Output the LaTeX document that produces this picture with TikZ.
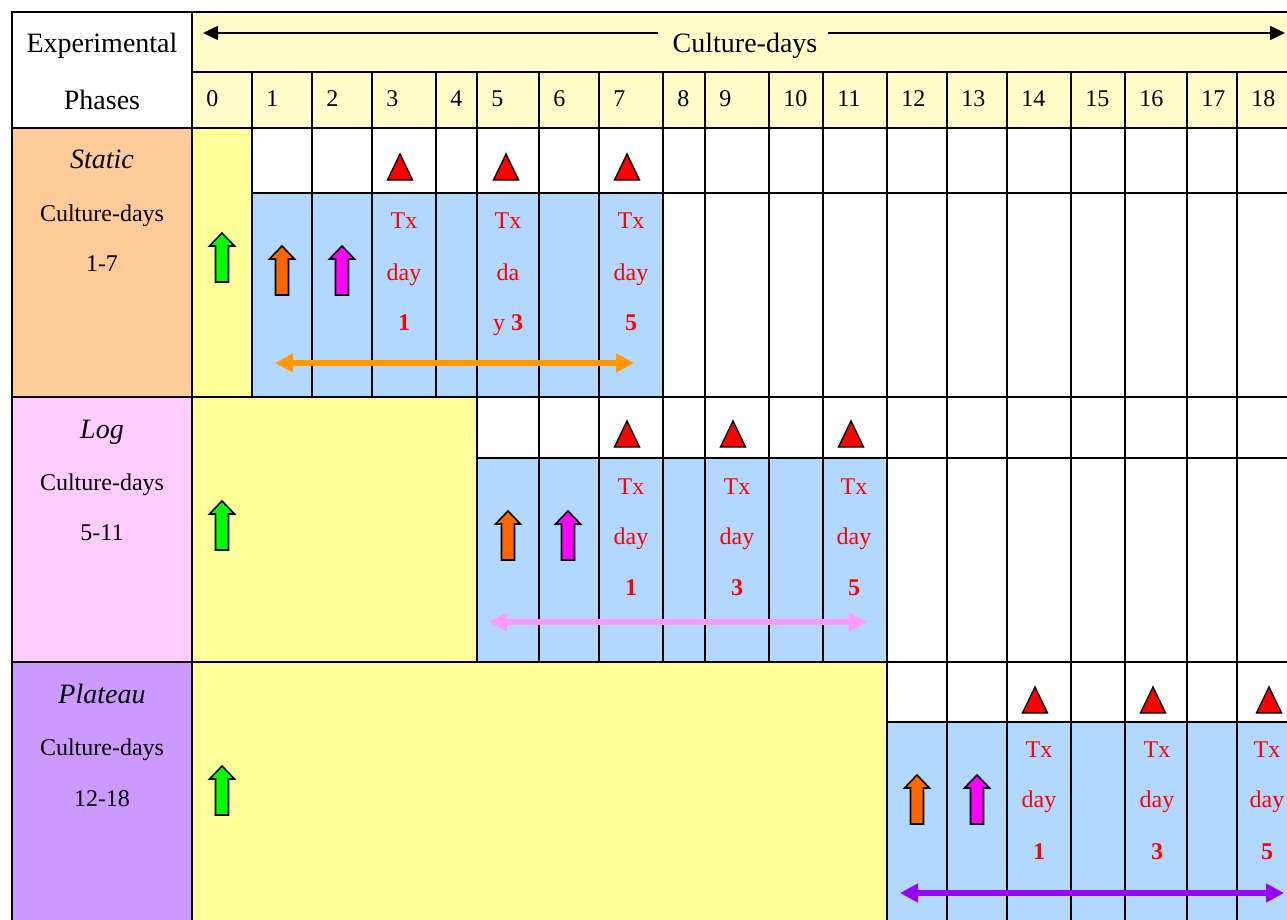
\documentclass[tikz,border=0pt]{standalone}
\usepackage{fontspec}
\setmainfont{Liberation Serif}
\usepackage{xcolor}
\usetikzlibrary{arrows.meta}
\definecolor{hdryellow}{HTML}{FFFFCC}
\definecolor{phyellow}{HTML}{FFFF99}
\definecolor{txblue}{HTML}{B3D8FF}
\definecolor{statorange}{HTML}{FFCC99}
\definecolor{logpink}{HTML}{FFCCFF}
\definecolor{platpurple}{HTML}{CC99FF}
\definecolor{arrgreen}{HTML}{00FF00}
\definecolor{arrorange}{HTML}{FF6600}
\definecolor{arrmagenta}{HTML}{FF00FF}
\definecolor{spanorange}{HTML}{FF9900}
\definecolor{spanpink}{HTML}{FF99FF}
\definecolor{spanpurple}{HTML}{9900FF}
\tikzset{
  big/.style={font=\fontsize{14}{16}\selectfont, inner sep=0pt},
  small/.style={font=\fontsize{12}{14}\selectfont, inner sep=0pt},
  txlabel/.style={small, text=red},
  blockup/.pic={\draw[line width=0.8pt, fill=#1] (-6.5,0) -- (-6.5,-36) -- (-12.5,-36) -- (0,-49) -- (12.5,-36) -- (6.5,-36) -- (6.5,0) -- cycle;},
  redtri/.pic={\draw[line width=0.7pt, fill=red] (-12.5,0) -- (0,-26) -- (12.5,0) -- cycle;},
  span/.style={line width=3pt, {Triangle[length=9pt,width=9pt]}-{Triangle[length=9pt,width=9pt]}},
}

\begin{document}
\begin{tikzpicture}[x=0.5pt,y=-0.5pt]
\useasboundingbox (0,0) rectangle (1287,920);
\clip (0,0) rectangle (1287,920);
% cell fills
\fill[white] (0,0) rectangle (1287,920);
\fill[hdryellow] (192,12) rectangle (1300,128);
\fill[statorange] (12,128) rectangle (192,397);
\fill[logpink] (12,397) rectangle (192,662);
\fill[platpurple] (12,662) rectangle (192,930);
\fill[phyellow] (192,128) rectangle (252,397);
\fill[phyellow] (192,397) rectangle (477,662);
\fill[phyellow] (192,662) rectangle (887,930);
\fill[txblue] (252,193) rectangle (663,397);
\fill[txblue] (477,458) rectangle (887,662);
\fill[txblue] (887,722) rectangle (1300,930);

% grid
\begin{scope}[line width=1pt]
\draw (12,930) -- (12,12) -- (1300,12);
\draw (192,12) -- (192,930);
\draw (192,72) -- (1300,72);
\draw (12,128) -- (1300,128);
\draw (252,193) -- (1300,193);
\draw (12,397) -- (1300,397);
\draw (477,458) -- (1300,458);
\draw (12,662) -- (1300,662);
\draw (887,722) -- (1300,722);
\foreach \cx in {252,312,372,436,477,539,599,663,705,769,823,887,947,1007,1071,1125,1187,1237}
  \draw (\cx,72) -- (\cx,397);
\foreach \cx in {477,539,599,663,705,769,823,887,947,1007,1071,1125,1187,1237}
  \draw (\cx,397) -- (\cx,662);
\foreach \cx in {887,947,1007,1071,1125,1187,1237}
  \draw (\cx,662) -- (\cx,930);
\end{scope}

% header
\node[big, anchor=base] (exper) at (102,53) {Experimental};
\node[big, anchor=base] (phases) at (102,110) {Phases};
\node[big, anchor=base] (cdays) at (745,53) {Culture-days};
\coordinate (cdL) at (203,33);
\coordinate (cdR) at (1285,33);
\draw[line width=0.8pt, -{Triangle[length=7.5pt,width=7pt]}] (658,33) -- (cdL);
\draw[line width=0.8pt, -{Triangle[length=7.5pt,width=7pt]}] (828,33) -- (cdR);
\foreach \cx/\d in {192/0,252/1,312/2,372/3,436/4,477/5,539/6,599/7,663/8,705/9,769/10,823/11,887/12,947/13,1007/14,1071/15,1125/16,1187/17,1237/18}
  \node[small, anchor=base west] (day\d) at (\cx+14,107) {\d};

% phase labels
\node[big, anchor=base] (static) at (102,169) {\textit{Static}};
\node[small, anchor=base] (staticcd) at (102,221) {Culture-days};
\node[small, anchor=base] (staticrange) at (102,271) {1-7};
\node[big, anchor=base] (log) at (102,438) {\textit{Log}};
\node[small, anchor=base] (logcd) at (102,490) {Culture-days};
\node[small, anchor=base] (logrange) at (102,540) {5-11};
\node[big, anchor=base] (plat) at (102,703) {\textit{Plateau}};
\node[small, anchor=base] (platcd) at (102,755) {Culture-days};
\node[small, anchor=base] (platrange) at (102,806) {12-18};

% static phase
\foreach \tx in {400,506,627} \pic at (\tx,180) {redtri};
\pic at (222,282) {blockup=arrgreen};
\pic at (282,295) {blockup=arrorange};
\pic at (342,295) {blockup=arrmagenta};
\node[txlabel, anchor=base] (sTxa) at (404,228) {Tx};
\node[txlabel, anchor=base] (sdaya) at (404,280) {day};
\node[txlabel, anchor=base] (snuma) at (404,330) {\textbf{1}};
\node[txlabel, anchor=base] (sTxb) at (508,228) {Tx};
\node[txlabel, anchor=base] (sdayb) at (508,280) {da};
\node[txlabel, anchor=base] (snumb) at (508,330) {y \textbf{3}};
\node[txlabel, anchor=base] (sTxc) at (631,228) {Tx};
\node[txlabel, anchor=base] (sdayc) at (631,280) {day};
\node[txlabel, anchor=base] (snumc) at (631,330) {\textbf{5}};
\coordinate (sL) at (275,363);
\coordinate (sR) at (634,363);
\draw[span, spanorange] (sL) -- (sR);

% log phase
\foreach \tx in {627,733,851} \pic at (\tx,447) {redtri};
\pic at (222,550) {blockup=arrgreen};
\pic at (508,560) {blockup=arrorange};
\pic at (568,560) {blockup=arrmagenta};
\node[txlabel, anchor=base] (lTxa) at (631,494) {Tx};
\node[txlabel, anchor=base] (ldaya) at (631,544) {day};
\node[txlabel, anchor=base] (lnuma) at (631,595) {\textbf{1}};
\node[txlabel, anchor=base] (lTxb) at (737,494) {Tx};
\node[txlabel, anchor=base] (ldayb) at (737,544) {day};
\node[txlabel, anchor=base] (lnumb) at (737,595) {\textbf{3}};
\node[txlabel, anchor=base] (lTxc) at (854,494) {Tx};
\node[txlabel, anchor=base] (ldayc) at (854,544) {day};
\node[txlabel, anchor=base] (lnumc) at (854,595) {\textbf{5}};
\coordinate (lL) at (489,622);
\coordinate (lR) at (867,622);
\draw[span, spanpink] (lL) -- (lR);

% plateau phase
\foreach \tx in {1035,1153,1269} \pic at (\tx,713) {redtri};
\pic at (222,815) {blockup=arrgreen};
\pic at (917,824) {blockup=arrorange};
\pic at (977,824) {blockup=arrmagenta};
\node[txlabel, anchor=base] (pTxa) at (1039,757) {Tx};
\node[txlabel, anchor=base] (pdaya) at (1039,807) {day};
\node[txlabel, anchor=base] (pnuma) at (1039,859) {\textbf{1}};
\node[txlabel, anchor=base] (pTxb) at (1157,757) {Tx};
\node[txlabel, anchor=base] (pdayb) at (1157,807) {day};
\node[txlabel, anchor=base] (pnumb) at (1157,859) {\textbf{3}};
\node[txlabel, anchor=base] (pTxc) at (1267,757) {Tx};
\node[txlabel, anchor=base] (pdayc) at (1267,807) {day};
\node[txlabel, anchor=base] (pnumc) at (1267,859) {\textbf{5}};
\coordinate (pL) at (900,893);
\coordinate (pR) at (1284,893);
\draw[span, spanpurple] (pL) -- (pR);
\end{tikzpicture}
\end{document}
